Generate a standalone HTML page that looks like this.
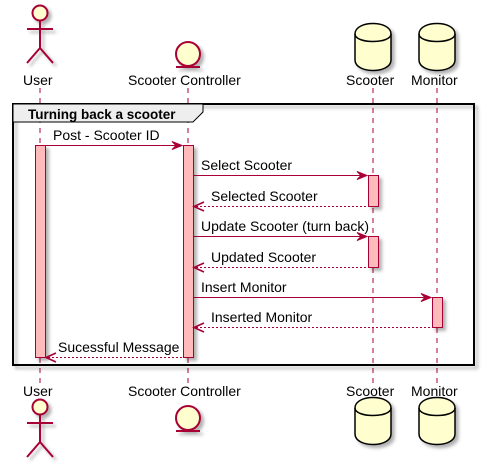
<!DOCTYPE html>
<html><head><meta charset="utf-8"><style>
html,body{margin:0;padding:0;background:#fff;}
svg{display:block;}
text{font-family:"Liberation Sans",sans-serif;font-size:14px;fill:#000;}
</style></head><body>
<svg width="484" height="470" viewBox="0 0 484 470" xmlns="http://www.w3.org/2000/svg">
<defs>
<filter id="sh" x="-20%" y="-20%" width="150%" height="150%"><feDropShadow dx="3" dy="3" stdDeviation="1.5" flood-color="#000" flood-opacity="0.3"/></filter>
</defs>
<g stroke="#A80036" stroke-width="1" stroke-dasharray="5,5">
<line x1="40" y1="88" x2="40" y2="385"/>
<line x1="188" y1="88" x2="188" y2="385"/>
<line x1="373" y1="88" x2="373" y2="385"/>
<line x1="437" y1="88" x2="437" y2="385"/>
</g>
<rect x="13" y="104" width="461" height="261" fill="none" stroke="#000" stroke-width="2" filter="url(#sh)"/>
<path d="M13,104 L203,104 L203,112 L193,122 L13,122 Z" fill="#EEEEEE" stroke="#000" stroke-width="1"/>
<text x="28" y="119" style="font-weight:bold;font-size:13.5px">Turning back a scooter</text>
<g fill="#FFBBBB" stroke="#A80036" stroke-width="1" filter="url(#sh)">
<rect x="35.5" y="145.5" width="10" height="212"/>
<rect x="183.5" y="145.5" width="10" height="212"/>
<rect x="368.5" y="175.5" width="10" height="31"/>
<rect x="368.5" y="236.5" width="10" height="31"/>
<rect x="432.5" y="297.5" width="10" height="30"/>
</g>
<g stroke="#A80036" stroke-width="1" fill="none">
<line x1="46" y1="145.5" x2="181" y2="145.5"/>
<line x1="194" y1="175.5" x2="366" y2="175.5"/>
<line x1="196" y1="206.5" x2="368" y2="206.5" stroke-dasharray="2,2"/>
<line x1="194" y1="236.5" x2="366" y2="236.5"/>
<line x1="196" y1="267.5" x2="368" y2="267.5" stroke-dasharray="2,2"/>
<line x1="194" y1="297.5" x2="430" y2="297.5"/>
<line x1="196" y1="327.5" x2="432" y2="327.5" stroke-dasharray="2,2"/>
<line x1="48" y1="357.5" x2="183" y2="357.5" stroke-dasharray="2,2"/>
</g>
<g fill="#A80036" stroke="#A80036">
<path d="M182,145.5 L172,141.5 L176,145.5 L172,149.5 Z"/>
<path d="M367,175.5 L357,171.5 L361,175.5 L357,179.5 Z"/>
<path d="M367,236.5 L357,232.5 L361,236.5 L357,240.5 Z"/>
<path d="M431,297.5 L421,293.5 L425,297.5 L421,301.5 Z"/>
</g>
<g stroke="#A80036" fill="none" stroke-width="1.6">
<path d="M204,202 L194,206.5 L204,211"/>
<path d="M204,263 L194,267.5 L204,272"/>
<path d="M204,323 L194,327.5 L204,332"/>
<path d="M56,353 L46,357.5 L56,362"/>
</g>
<text x="53" y="140">Post - Scooter ID</text>
<text x="201" y="170">Select Scooter</text>
<text x="211" y="201">Selected Scooter</text>
<text x="201" y="231">Update Scooter (turn back)</text>
<text x="211" y="262">Updated Scooter</text>
<text x="201" y="292">Insert Monitor</text>
<text x="211" y="322">Inserted Monitor</text>
<text x="58" y="352">Sucessful Message</text>
<text x="23" y="85">User</text>
<text x="128" y="85">Scooter Controller</text>
<text x="346" y="85">Scooter</text>
<text x="411" y="85">Monitor</text>
<text x="23" y="396">User</text>
<text x="128" y="396">Scooter Controller</text>
<text x="346" y="396">Scooter</text>
<text x="411" y="396">Monitor</text>
<g fill="#FEFECE" stroke="#A80036" stroke-width="2" filter="url(#sh)">
<g>
<circle cx="40" cy="13" r="7.5"/>
<line x1="40" y1="20.5" x2="40" y2="48"/>
<line x1="27" y1="29" x2="53" y2="29"/>
<path d="M27,63 L40,48 L53,63" fill="none"/>
</g>
<g transform="translate(0,389)">
<circle cx="40" cy="18" r="7.5"/>
<line x1="40" y1="25.5" x2="40" y2="53"/>
<line x1="27" y1="34" x2="53" y2="34"/>
<path d="M27,68 L40,53 L53,68" fill="none"/>
</g>
<circle cx="188" cy="54" r="12"/>
<line x1="176" y1="67" x2="200" y2="67"/>
<circle cx="188" cy="418" r="12"/>
<line x1="176" y1="431" x2="200" y2="431"/>
</g>
<g fill="#FEFECE" stroke="#000" stroke-width="1.5" filter="url(#sh)">
<path d="M355,34 C355,20 391,20 391,34 L391,60 C391,74 355,74 355,60 Z"/>
<path d="M419,34 C419,20 455,20 455,34 L455,60 C455,74 419,74 419,60 Z"/>
<path d="M355,110 C355,96 391,96 391,110 L391,136 C391,150 355,150 355,136 Z" transform="translate(0,298)"/>
<path d="M419,110 C419,96 455,96 455,110 L455,136 C455,150 419,150 419,136 Z" transform="translate(0,298)"/>
</g>
<g fill="none" stroke="#000" stroke-width="1.5">
<path d="M355,34 C355,44 391,44 391,34"/>
<path d="M419,34 C419,44 455,44 455,34"/>
<path d="M355,408 C355,418 391,418 391,408"/>
<path d="M419,408 C419,418 455,418 455,408"/>
</g>
</svg>
</body></html>
